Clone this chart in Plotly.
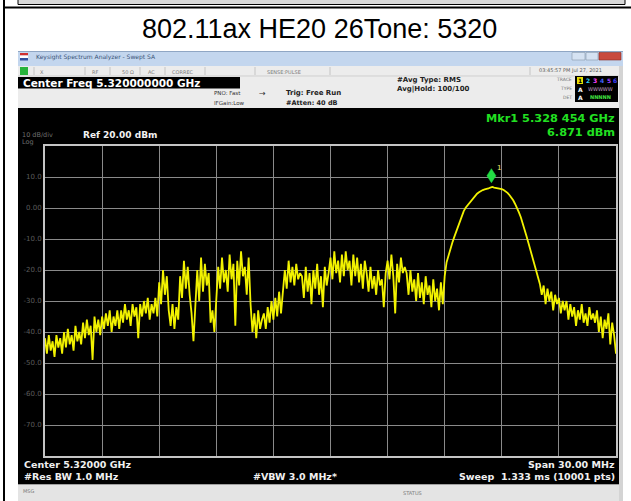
import numpy as np
import plotly.graph_objects as go

# ---------------- data ----------------
title_text = "802.11ax HE20 26Tone: 5320"
center_ghz = 5.32
span_mhz = 30.0
ref_dbm = 20.0
db_per_div = 10.0
n_div = 10
step_mhz = 0.1          # spacing of the read-off trace points

# trace levels in dBm, 0.1 MHz apart starting at the left edge
lv_low_rise = [-42, -47, -41, -46, -43, -48, -41, -45, -42, -47,
               -40, -45, -39, -44, -41, -46, -38, -43, -40, -44,
               -37, -42, -36, -41, -38, -49, -35, -40, -36, -41,
               -35, -39, -34, -38, -33, -40, -35, -38, -33, -39,
               -33, -37, -31, -36, -33, -38, -31, -35, -32, -42,
               -31, -35, -30, -34, -29, -36, -31, -34, -29, -35]
lv_bursts = [-24, -31, -20, -28, -22,
             -33, -38, -31, -39, -32, -36,
             -22, -29, -17, -26, -19, -28,
             -34, -43, -31,
             -20, -30, -16, -27, -18, -25, -21,
             -37, -33, -40, -30,
             -19, -26, -16, -24, -20, -27, -15, -23, -18, -38, -17, -25, -14, -22, -19, -28, -16]
lv_gap = [-31, -40, -34, -42, -33, -39, -36,
          -34, -39, -32, -37, -30, -36, -29, -35, -27, -34, -28]
lv_hump = [-20, -26, -17, -24, -19, -25, -18, -23, -21,
           -22, -29, -19, -27, -21, -31, -20, -26, -18, -28, -22, -32, -19, -25, -21,
           -16, -23, -14, -21, -17, -24, -15, -22, -14, -20, -17, -25, -15, -22, -16, -24, -18, -26, -17,
           -21, -27, -19, -26, -22, -28, -20, -25, -23, -32, -21,
           -17, -23, -15, -22, -34, -18, -24, -16, -21, -19,
           -21, -28, -20, -27, -23, -30, -21, -29, -24, -31, -22, -28, -25, -32, -23, -30, -26, -33, -24, -31]
lv_ru = [-22, -17.5, -15.2, -13.0, -11.2, -9.4, -7.6, -5.8, -3.9, -2.3,
         -1.0, 0.1, 0.9, 1.7, 2.5, 3.3, 4.0, 4.6, 5.1, 5.5,
         5.8, 6.0, 6.1, 6.3, 6.6, 6.8, 6.6, 6.5, 6.4, 6.3,
         6.1, 5.8, 5.4, 4.9, 4.2, 3.4, 2.5, 1.3, 0.1, -1.4,
         -3.0, -4.8, -6.9, -9.1, -11.3, -13.6, -15.9, -18.2, -20.5, -22.8,
         -24.5]
lv_tail = [-28, -25, -31, -26, -30, -27, -33, -28, -31, -29, -34, -30,
           -33, -30, -36, -31, -35, -32, -38, -33, -36, -31, -37, -34, -38, -32, -36, -34,
           -37, -33, -40, -35, -42, -36, -39, -34, -44, -37, -41, -47]

levels = lv_low_rise + lv_bursts + lv_gap + lv_hump + lv_ru + lv_tail
start_ghz = center_ghz - span_mhz / 2000.0
freqs = start_ghz + np.arange(len(levels)) * step_mhz / 1000.0

mkr_freq = 5.328454
mkr_level = 6.871

ytick_vals = [10, 0, -10, -20, -30, -40, -50, -60, -70]
ytick_text = ["10.0", "0.00", "-10.0", "-20.0", "-30.0", "-40.0", "-50.0", "-60.0", "-70.0"]

# ---------------- layout geometry (pixels) ----------------
W, H = 631, 501
PL, PR, PT, PB = 45, 616, 146, 456


def X(p):
    return (p - PL) / (PR - PL)


def Y(p):
    return (PB - p) / (PB - PT)


shapes = []


def rect(x0, y0, x1, y1, fill, line=None, lw=0, layer="below"):
    shapes.append(dict(type="rect", xref="paper", yref="paper",
                       x0=X(x0), x1=X(x1), y0=Y(y1), y1=Y(y0),
                       fillcolor=fill, line=dict(color=line or fill, width=lw),
                       layer=layer))


def hline(x0, x1, y, color, w):
    shapes.append(dict(type="line", xref="paper", yref="paper",
                       x0=X(x0), x1=X(x1), y0=Y(y), y1=Y(y),
                       line=dict(color=color, width=w), layer="below"))


def vline(x, y0, y1, color, w):
    shapes.append(dict(type="line", xref="paper", yref="paper",
                       x0=X(x), x1=X(x), y0=Y(y0), y1=Y(y1),
                       line=dict(color=color, width=w), layer="below"))


# document table frame
rect(18, -2, 625, 4.5, "#d9d9d9", "#000000", 1)
hline(3, 631, 7.5, "#000000", 2)
vline(4, 0, 501, "#000000", 2)

# analyzer window
rect(18, 51, 623, 66, "#c3d6ee")
hline(18, 623, 51.5, "#8fa6c4", 1)
rect(18, 66, 623, 108, "#ececec")
rect(18, 77, 240, 88.5, "#000000")
rect(18, 108, 619, 484, "#000000")
rect(619, 66, 623, 501, "#d4d4d4")
rect(18, 484, 619, 501, "#e4e4e4")
hline(18, 619, 484.5, "#a0a0a0", 1)
# title bar icon + buttons
rect(20, 53, 28, 55.5, "#d03030")
rect(20, 55.5, 28, 58, "#ffffff")
rect(20, 58, 28, 60.5, "#3050a0")
rect(572, 52.5, 585, 60, "#d5e2f2", "#8899aa", 0.6)
rect(586, 52.5, 598, 60, "#d5e2f2", "#8899aa", 0.6)
rect(599, 52.5, 621, 60, "#c84a3e", "#8a2a22", 0.6)
# toolbar row
rect(20, 67, 28, 75, "#27b33a")
for sx in [34, 85, 110, 140, 165, 205, 255, 330, 530]:
    vline(sx, 67, 75, "#c4c4c4", 1)
hline(18, 619, 76, "#cfcfcf", 1)
# trace box
rect(575, 76, 618, 102, "#000000")
rect(577, 77, 583, 84, "#e8e000")

annotations = []


def text(t, x, y, size, color, family="DejaVu Sans", anchor="left", bold=False):
    annotations.append(dict(text=("<b>%s</b>" % t) if bold else t,
                            xref="paper", yref="paper", x=X(x), y=Y(y),
                            xanchor=anchor, yanchor="middle", showarrow=False,
                            font=dict(family=family, size=size, color=color)))


text(title_text, 319.5, 29, 27, "#000000", family="Liberation Sans", anchor="center")
text("Keysight Spectrum Analyzer - Swept SA", 34, 57, 6, "#3a5478")
for lab, lx in [("X", 38), ("RF", 90), ("50 Ω", 120), ("AC", 146), ("CORREC", 170), ("SENSE:PULSE", 265)]:
    text(lab, lx, 71.5, 5, "#7a7a7a")
text("03:45:57 PM Jul 27, 2021", 537, 70.5, 5, "#5a5a5a")
text("Center Freq %.9f GHz" % center_ghz, 21, 83, 10.5, "#ffffff", bold=True)
text("PNO: Fast", 212, 93, 5.5, "#333333")
text("IFGain:Low", 212, 103, 5.5, "#333333")
text("→", 257, 93.5, 8, "#333333")
text("Trig: Free Run", 284, 93, 7, "#222222", bold=True)
text("#Atten: 40 dB", 284, 103, 6.5, "#222222", bold=True)
text("#Avg Type: RMS", 395, 80, 7, "#222222", bold=True)
text("Avg|Hold: 100/100", 395, 89, 7, "#222222", bold=True)
text("TRACE", 574, 79, 4.5, "#777777", anchor="right")
text("TYPE", 574, 88, 4.5, "#777777", anchor="right")
text("DET", 574, 97, 4.5, "#777777", anchor="right")
for d, c, dx in [("1", "#000000", 580), ("2", "#30d0ff", 587.5), ("3", "#ff40ff", 594.5),
                 ("4", "#4060ff", 601.5), ("5", "#a040ff", 608.5), ("6", "#4040ff", 615)]:
    text(d, dx, 80.5, 6, c, anchor="center", bold=True)
text("A", 580, 89, 6, "#ffffff", anchor="center", bold=True)
text("WWWWW", 600, 89, 5, "#c8a0c8", anchor="center")
text("A", 580, 97, 6, "#ffffff", anchor="center", bold=True)
text("NNNNN", 600, 97, 5, "#40e040", anchor="center", bold=True)

mk = "%.6f" % mkr_freq
text("Mkr1 %s %s GHz" % (mk[:5], mk[5:]), 617, 119, 11.3, "#22e022", anchor="right", bold=True)
text("%.3f dBm" % mkr_level, 617, 132.5, 11.3, "#22e022", anchor="right", bold=True)
text("10 dB/div", 20, 134.5, 6.5, "#6e6e6e")
text("Log", 20, 141.5, 6.5, "#6e6e6e")
text("Ref %.2f dBm" % ref_dbm, 81, 135, 9, "#f2f2f2", bold=True)

text("Center %.5f GHz" % center_ghz, 22, 464, 9.5, "#f0f0f0", bold=True)
text("#Res BW 1.0 MHz", 22, 476, 9.5, "#f0f0f0", bold=True)
text("#VBW 3.0 MHz*", 251, 476, 9.5, "#f0f0f0", bold=True)
text("Span %.2f MHz" % span_mhz, 617, 464, 9.5, "#f0f0f0", anchor="right", bold=True)
text("Sweep\u00a0\u00a01.333 ms (10001 pts)", 617, 476, 9.5, "#f0f0f0", anchor="right", bold=True)
text("MSG", 21, 491, 5, "#7a7a7a")
text("STATUS", 401, 493, 5, "#7a7a7a")

# marker glyph (pixel-sized, anchored at the marker point)
shapes.append(dict(type="path", xref="x", yref="y", xsizemode="pixel", ysizemode="pixel",
                   xanchor=mkr_freq, yanchor=mkr_level,
                   path="M 0 4 L 4.5 11 L 0 18 L -4.5 11 Z",
                   fillcolor="#22dd44", line=dict(color="#22dd44", width=0.5), layer="above"))
annotations.append(dict(text="1", x=mkr_freq, y=mkr_level, xref="x", yref="y",
                        xshift=8, yshift=19, showarrow=False,
                        font=dict(family="DejaVu Sans", size=7, color="#f0f070")))

fig = go.Figure()
fig.add_trace(go.Scatter(x=freqs, y=levels, mode="lines",
                         line=dict(color="#f2f200", width=1.8), hoverinfo="skip"))

x0 = start_ghz
x1 = center_ghz + span_mhz / 2000.0
fig.update_layout(
    width=W, height=H,
    margin=dict(l=PL, r=W - PR, t=PT, b=H - PB, pad=0),
    paper_bgcolor="#ffffff", plot_bgcolor="#000000",
    showlegend=False,
    shapes=shapes, annotations=annotations,
    xaxis=dict(range=[x0, x1], tick0=x0, dtick=span_mhz / n_div / 1000.0,
               showgrid=True, gridcolor="#8a8a8a", gridwidth=1,
               showticklabels=False, ticks="", zeroline=False,
               showline=True, mirror=True, linecolor="#c4c4c4", linewidth=2),
    yaxis=dict(range=[ref_dbm - n_div * db_per_div, ref_dbm], tickvals=ytick_vals, ticktext=ytick_text,
               showgrid=True, gridcolor="#8a8a8a", gridwidth=1, ticks="", zeroline=False,
               tickfont=dict(family="DejaVu Sans", size=7, color="#5c5c5c"),
               showline=True, mirror=True, linecolor="#c4c4c4", linewidth=2),
)
fig.write_html("out.html", config={"displayModeBar": False},
               post_script="document.body.style.margin='0';document.body.style.overflow='hidden';")
